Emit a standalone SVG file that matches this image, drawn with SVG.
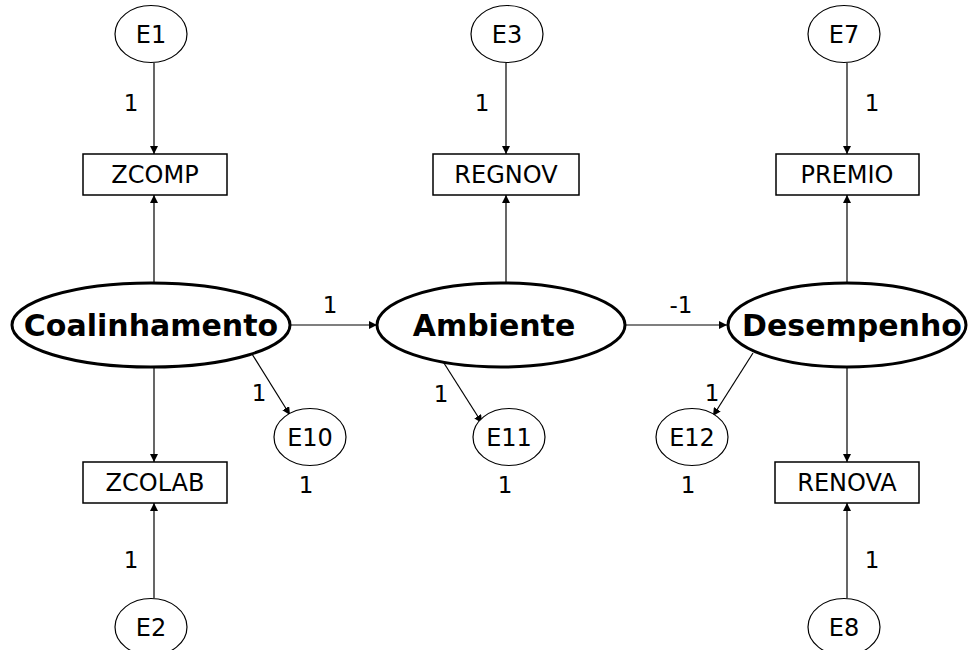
<svg xmlns="http://www.w3.org/2000/svg" width="968" height="650" viewBox="0 0 968 650">
<defs>
<marker id="ah" viewBox="0 0 10 10" refX="10" refY="5" markerWidth="8" markerHeight="8" markerUnits="userSpaceOnUse" orient="auto">
<path d="M0,0 L10,5 L0,10 z" fill="#000"/>
</marker>
<style>
.t{font-family:"DejaVu Sans",Verdana,sans-serif;font-size:24px;fill:#000;text-anchor:middle}
.lat{font-family:"DejaVu Sans",Verdana,sans-serif;font-size:30px;font-weight:bold;fill:#000;text-anchor:middle}
.lbl{font-family:"DejaVu Sans",Verdana,sans-serif;font-size:23px;fill:#000;text-anchor:middle}
.err{fill:#fff;stroke:#000;stroke-width:1.2}
.big{fill:#fff;stroke:#000;stroke-width:3}
.box{fill:#fff;stroke:#000;stroke-width:1.5}
.c{stroke:#000;stroke-width:1.2;fill:none;marker-end:url(#ah)}
</style>
</defs>
<rect width="968" height="650" fill="#fff"/>
<g id="connectors">
<line class="c" x1="154" y1="63" x2="154" y2="154"/>
<line class="c" x1="154" y1="282" x2="154" y2="195"/>
<line class="c" x1="154" y1="367" x2="154" y2="462"/>
<line class="c" x1="154" y1="598" x2="154" y2="503"/>
<line class="c" x1="506" y1="63" x2="506" y2="154"/>
<line class="c" x1="506" y1="282" x2="506" y2="195"/>
<line class="c" x1="847" y1="63" x2="847" y2="154"/>
<line class="c" x1="847" y1="282" x2="847" y2="195"/>
<line class="c" x1="847" y1="367" x2="847" y2="462"/>
<line class="c" x1="847" y1="598" x2="847" y2="503"/>
<line class="c" x1="290" y1="325" x2="377" y2="325"/>
<line class="c" x1="625" y1="325" x2="727" y2="325"/>
<line class="c" x1="252" y1="354" x2="290" y2="415"/>
<line class="c" x1="442" y1="360" x2="482" y2="423"/>
<line class="c" x1="753" y1="353" x2="713" y2="416"/>
</g>
<g id="labels">
<text class="lbl" x="131" y="111">1</text>
<text class="lbl" x="482" y="111">1</text>
<text class="lbl" x="872" y="111">1</text>
<text class="lbl" x="131" y="568">1</text>
<text class="lbl" x="872" y="568">1</text>
<text class="lbl" x="330" y="313">1</text>
<text class="lbl" x="681" y="313">-1</text>
<text class="lbl" x="259" y="401">1</text>
<text class="lbl" x="441" y="402">1</text>
<text class="lbl" x="712" y="401">1</text>
<text class="lbl" x="306" y="493">1</text>
<text class="lbl" x="505" y="493">1</text>
<text class="lbl" x="688" y="493">1</text>
</g>
<g id="E1"><ellipse class="err" cx="151" cy="34" rx="36" ry="28.5"/><text class="t" x="151" y="43">E1</text></g>
<g id="E3"><ellipse class="err" cx="507" cy="34" rx="36" ry="28.5"/><text class="t" x="507" y="43">E3</text></g>
<g id="E7"><ellipse class="err" cx="844" cy="34" rx="36" ry="28.5"/><text class="t" x="844" y="43">E7</text></g>
<g id="E2"><ellipse class="err" cx="151" cy="627" rx="36" ry="28.5"/><text class="t" x="151" y="636">E2</text></g>
<g id="E8"><ellipse class="err" cx="844" cy="627" rx="36" ry="28.5"/><text class="t" x="844" y="636">E8</text></g>
<g id="E10"><ellipse class="err" cx="310" cy="437" rx="36" ry="28.5"/><text class="t" x="310" y="446">E10</text></g>
<g id="E11"><ellipse class="err" cx="509" cy="437" rx="36" ry="28.5"/><text class="t" x="509" y="446">E11</text></g>
<g id="E12"><ellipse class="err" cx="692" cy="437" rx="36" ry="28.5"/><text class="t" x="692" y="446">E12</text></g>
<g id="ZCOMP"><rect class="box" x="83" y="154" width="144" height="41"/><text class="t" x="155" y="183">ZCOMP</text></g>
<g id="REGNOV"><rect class="box" x="433" y="154" width="146" height="41"/><text class="t" x="506" y="183">REGNOV</text></g>
<g id="PREMIO"><rect class="box" x="776" y="154" width="143" height="41"/><text class="t" x="847" y="183">PREMIO</text></g>
<g id="ZCOLAB"><rect class="box" x="83" y="462" width="144" height="41"/><text class="t" x="155" y="491">ZCOLAB</text></g>
<g id="RENOVA"><rect class="box" x="775" y="462" width="144" height="41"/><text class="t" x="847" y="491">RENOVA</text></g>
<g id="Coalinhamento"><ellipse class="big" cx="151" cy="325" rx="139" ry="42"/><text class="lat" x="151" y="336">Coalinhamento</text></g>
<g id="Ambiente"><ellipse class="big" cx="501" cy="325" rx="124" ry="42"/><text class="lat" x="494" y="336">Ambiente</text></g>
<g id="Desempenho"><ellipse class="big" cx="847" cy="325" rx="119" ry="42"/><text class="lat" x="852" y="336">Desempenho</text></g>
</svg>
